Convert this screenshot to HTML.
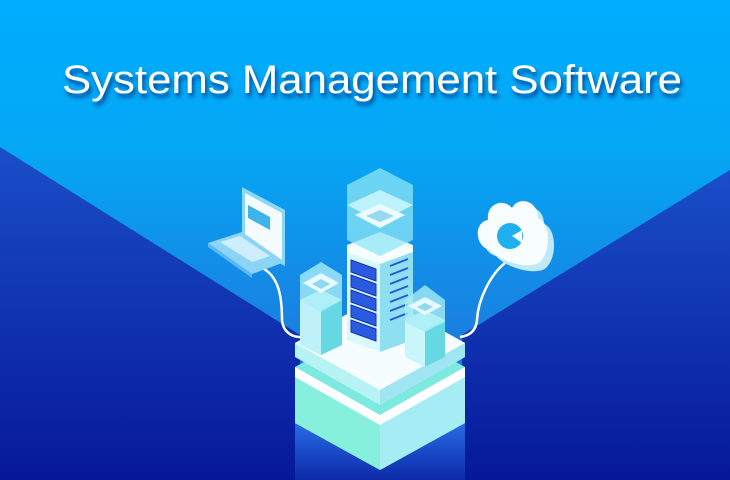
<!DOCTYPE html>
<html><head><meta charset="utf-8"><style>
html,body{margin:0;padding:0;width:730px;height:480px;overflow:hidden;background:#02a9f7}
svg{display:block}
</style></head><body>
<svg width="730" height="480" viewBox="0 0 730 480" xmlns="http://www.w3.org/2000/svg">
<defs>
<linearGradient id="bg" x1="0" y1="0" x2="0" y2="1">
<stop offset="0" stop-color="#00adff"/><stop offset="0.3" stop-color="#04a8f5"/><stop offset="0.7" stop-color="#1a7fe0"/><stop offset="1" stop-color="#1560d8"/></linearGradient>
<linearGradient id="dk" x1="0" y1="0" x2="0" y2="1">
<stop offset="0" stop-color="#1a4ec8"/><stop offset="1" stop-color="#06189a"/></linearGradient>
<linearGradient id="ref" x1="0" y1="0" x2="0" y2="1">
<stop offset="0" stop-color="#2a6fe8"/><stop offset="1" stop-color="#0c2aa8"/></linearGradient>
<filter id="sh" x="-10%" y="-30%" width="130%" height="170%"><feDropShadow dx="2" dy="4" stdDeviation="2" flood-color="#062a7a" flood-opacity="0.8"/></filter>
</defs>
<rect width="730" height="480" fill="url(#bg)"/>
<polygon points="0,147 300,335 300,480 0,480" fill="url(#dk)"/>
<polygon points="730,170 462,335 462,480 730,480" fill="url(#dk)"/>
<rect x="295" y="420" width="170" height="60" fill="url(#ref)"/>
<text x="62" y="93" font-family="'Liberation Sans',sans-serif" font-size="40" fill="#fff" textLength="620" lengthAdjust="spacingAndGlyphs" filter="url(#sh)">Systems Management Software</text>

<polygon points="295,367 380,320 465,367 465,423 380,470 295,423" fill="#7de9df"/>
<polygon points="380,417 465,370 465,423 380,470" fill="#a5ecf5"/>
<polygon points="295,370 380,417 380,470 295,423" fill="#86f0dc"/>
<polygon points="295,367 380,415 465,367 465,377 380,425 295,377" fill="#ffffff"/>
<polygon points="295,343 380,296 465,343 465,357 380,405 295,357" fill="#b8f3f4"/>
<polygon points="295,343 380,296 465,343 380,390" fill="#f6fdff"/>
<polygon points="380,390 465,343 465,357 380,405" fill="#9fe6f2"/>

<path d="M260,267 C280,275 282,300 282,320 C283,332 292,337 300,337" fill="none" stroke="#fff" stroke-width="2.5"/>
<path d="M505,263 C490,275 478,300 477,320 C476,332 468,336 460,337" fill="none" stroke="#fff" stroke-width="2.5"/>

<polygon points="300,300 321,290 342,300 342,345 321,355 300,345" fill="#c9f6fb"/>
<polygon points="321,310 342,300 342,345 321,355" fill="#66d8e4"/>
<polygon points="300,300 321,310 321,355 300,345" fill="#bff1f8"/>
<polygon points="300,275 321,262 342,275 342,300 321,312 300,300" fill="#a8eef8" opacity="0.8"/>
<polygon points="303,283 321,273 339,283 321,293" fill="#e6fbff"/>
<polygon points="312,284 321,279 330,284 321,289" fill="#8fd8f0"/>

<polygon points="347,250 380,262 380,352 347,340" fill="#d9f8fd"/>
<polygon points="380,262 413,250 413,340 380,352" fill="#8edff0"/>
<g fill="#2a5ae0" stroke="#1433b8" stroke-width="1">
<polygon points="351,260 376,269 376,281 351,272"/>
<polygon points="351,275 376,284 376,296 351,287"/>
<polygon points="351,290 376,299 376,311 351,302"/>
<polygon points="351,305 376,314 376,326 351,317"/>
<polygon points="351,320 376,329 376,341 351,332"/>
</g>
<g stroke="#2b55d6" stroke-width="2">
<line x1="390" y1="266" x2="408" y2="259"/><line x1="390" y1="275" x2="408" y2="268"/>
<line x1="390" y1="284" x2="408" y2="277"/><line x1="390" y1="293" x2="408" y2="286"/>
<line x1="390" y1="302" x2="408" y2="295"/><line x1="390" y1="311" x2="408" y2="304"/>
<line x1="390" y1="320" x2="408" y2="313"/>
</g>
<polygon points="347,245 380,232 413,245 413,252 380,264 347,252" fill="#f6fdff"/>
<polygon points="347,185 380,168 413,185 413,240 380,256 347,240" fill="#8ee6f5" opacity="0.75"/>
<polygon points="347,205 380,190 413,205 380,222" fill="#c8f6ff" opacity="0.9"/>
<polygon points="355,215 380,204 405,215 380,228" fill="#eafcff"/>
<polygon points="366,216 380,210 394,216 380,222" fill="#98d8f2"/>

<polygon points="405,320 425,310 445,320 445,357 425,367 405,357" fill="#c9f6fb"/>
<polygon points="425,330 445,320 445,357 425,367" fill="#66d8e4"/>
<polygon points="405,300 425,285 445,300 445,322 425,332 405,322" fill="#a8eef8" opacity="0.8"/>
<polygon points="408,306 425,297 442,306 425,315" fill="#e6fbff"/>
<polygon points="417,307 425,303 433,307 425,311" fill="#8fd8f0"/>

<polygon points="242,187 285,210 285,266 242,244" fill="#8ad8f8"/>
<polygon points="245,193 282,213 282,260 245,240" fill="#f3fbff"/>
<polygon points="248,205 270,217 270,230 248,218" fill="#3fb4ea"/>
<polygon points="208,243 242,232 285,262 252,274" fill="#8bd4f6"/>
<polygon points="220,242 240,236 270,256 252,262" fill="#dff4ff" opacity="0.8"/>
<polygon points="208,243 252,274 252,278 208,247" fill="#5cb8ef"/>

<g>
<path d="M490,250 C474,246 474,222 488,220 C486,203 504,198 512,208 C518,196 538,200 538,218 C550,222 552,250 540,262 C530,270 500,262 490,250 Z" fill="#bfe9f7" transform="translate(6,6)"/>
<path d="M490,250 C474,246 474,222 488,220 C486,203 504,198 512,208 C518,196 538,200 538,218 C550,222 552,250 540,262 C530,270 500,262 490,250 Z" fill="#f8fdff"/>
<circle cx="510" cy="236" r="13" fill="#1fb0ef"/>
<path d="M512,236 L522,230 L522,243 Z" fill="#f8fdff"/>
</g>
</svg>
</body></html>
